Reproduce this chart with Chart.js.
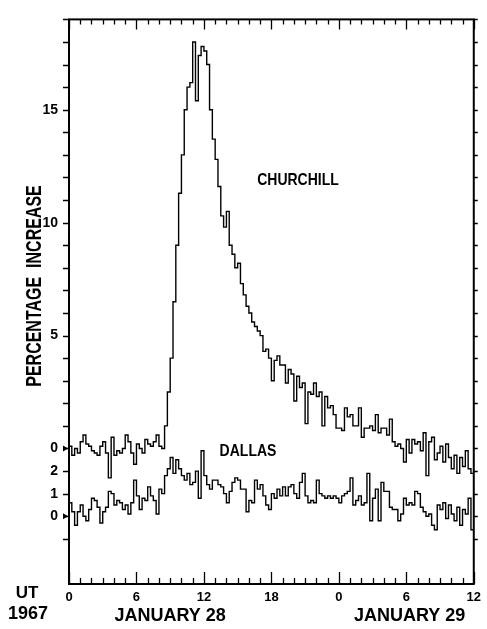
<!DOCTYPE html>
<html>
<head>
<meta charset="utf-8">
<script src="https://cdn.jsdelivr.net/npm/chart.js@4"></script>
<style>
  html, body { margin: 0; padding: 0; background: #fff; }
</style>
</head>
<body>
<canvas id="c" width="487" height="629"></canvas>
<script>
    // 15 minute bins, hour 0 of Jan 28 to hour 12 of Jan 29 (UT)
    const STEP_H = 0.25;
    const CHURCHILL = [
        0.1, -0.3, 0.0, -0.2,  0.3, 0.6, 0.2, 0.1,  -0.1, -0.2, -0.3, 0.1,  0.3, -0.2, -1.3, 0.5,
        -0.3, -0.1, -0.2, 0.0,  0.6, 0.3, -0.2, -0.7,  0.2, 0.0, -0.2, 0.4,  0.2, 0.1, 0.3, 0.6,
        0.1, 0.0, 1.0, 2.5,  4.0, 6.5, 9.0, 11.3,  13.0, 15.0, 16.0, 16.2,  18.0, 15.4, 17.4, 17.8,
        17.6, 17.0, 15.0, 13.7,  12.8, 11.6, 10.3, 9.8,  10.5, 9.0, 8.6, 8.0,  8.2, 7.3, 6.8, 6.3,
        6.0, 5.6, 5.4, 5.2,  5.0, 4.3, 4.4, 4.0,  3.0, 3.9, 4.1, 3.7,  3.7, 2.9, 3.5, 3.3,
        2.1, 3.2, 2.7, 2.9,  1.1, 2.5, 2.4, 2.9,  2.3, 2.5, 1.0, 2.3,  1.8, 1.9, 1.5, 0.9,
        0.9, 0.8, 1.8, 1.4,  1.5, 1.0, 1.0, 1.8,  0.5, 0.9, 0.9, 1.0,  0.8, 1.5, 0.7, 0.9,
        0.9, 0.6, 1.3, 0.3,  0.1, 0.2, 0.0, -0.6,  0.4, -0.2, 0.4, 0.2,  0.3, -0.1, 0.7, -1.2,
        0.3, 0.5, -0.5, -0.2,  0.1, -0.6, 0.2, -0.4,  -0.9, -0.3, -1.1, -0.4,  -0.8, -0.1, -0.9, -1.1
    ];
    const DALLAS = [
        0.6, 0.2, -0.4, 0.2,  0.5, 0.0, -0.2, 0.3,  0.8, 0.7, 0.4, -0.3,  0.2, 0.4, 1.1, 1.0,
        0.5, 0.7, 0.6, 0.3,  0.5, 0.1, 0.6, 1.6,  0.9, 0.3, 0.8, 0.7,  1.3, 0.9, 0.7, 0.1,
        1.2, 1.0, 1.8, 2.1,  2.6, 1.9, 2.5, 2.1,  1.8, 1.6, 1.9, 1.4,  1.5, 2.0, 0.8, 2.9,
        1.8, 1.4, 1.2, 1.6,  1.6, 1.4, 1.3, 1.0,  0.6, 1.1, 1.5, 1.7,  1.6, 1.2, 1.2, 0.2,
        0.7, 0.6, 1.6, 1.2,  1.4, 0.9, 0.5, 0.3,  1.0, 0.8, 1.2, 0.9,  1.3, 0.9, 1.3, 1.4,
        1.0, 0.8, 1.5, 1.9,  0.9, 0.6, 0.7, 0.6,  1.6, 1.0, 0.9, 0.8,  0.9, 0.8, 0.9, 0.8,
        0.6, 0.9, 1.0, 1.1,  1.7, 0.5, 0.7, 0.9,  0.5, 0.6, 1.9, -0.2,  0.8, 1.2, -0.2, 1.5,
        1.1, 1.1, 0.4, 0.3,  0.3, -0.2, 0.1, 0.8,  0.5, 0.6, 0.5, 1.1,  1.0, 0.4, 0.2, 0.0,
        0.1, -0.4, -0.6, 0.5,  0.3, 0.6, -0.1, 0.5,  0.1, -0.2, 0.4, -0.4,  0.3, 0.1, 0.8, -0.6
    ];
    const DALLAS_OFFSET = -3;   // Dallas curve sits 3 units below Churchill's zero

    const X_TICKS = [0, 6, 12, 18, 24, 30, 36];
    const X_LABELS = ['0', '6', '12', '18', '0', '6', '12'];
    const Y_TICKS = [15, 10, 5, 0, -1, -2, -3];
    const Y_LABELS = ['15', '10', '5', '0', '2', '1', '0'];
    const DAYS = ['JANUARY 28', 'JANUARY 29'];
    const FONT = "'Liberation Sans', Arial, sans-serif";

    const toPts = (arr, off) => {
        let pts = arr.map((v, i) => ({ x: i * STEP_H, y: v + off }));
        pts.push({ x: arr.length * STEP_H, y: arr[arr.length - 1] + off });
        return pts;
    };

    function label(ctx, s, x, y, size, sy) {
        ctx.save();
        ctx.translate(x, y);
        ctx.scale(1, sy || 1);
        ctx.font = 'bold ' + size + 'px ' + FONT;
        ctx.textAlign = 'center'; ctx.textBaseline = 'middle';
        ctx.fillText(s, 0, 0);
        ctx.restore();
    }

    const frame = {
        id: 'frame',
        afterDraw(chart) {
            const { ctx, chartArea: a, scales: { x, y } } = chart;
            ctx.save();
            ctx.strokeStyle = '#000'; ctx.fillStyle = '#000';
            ctx.lineWidth = 2;
            ctx.strokeRect(a.left, a.top, a.right - a.left, a.bottom - a.top);
            ctx.lineWidth = 1.3;
            ctx.beginPath();
            for (let h = 0; h <= 36; h++) {
                let px = Math.round(x.getPixelForValue(h)) + 0.5, major = h % 6 === 0;
                ctx.moveTo(px, a.bottom); ctx.lineTo(px, a.bottom - (major ? 12 : 6));
                ctx.moveTo(px, a.top); ctx.lineTo(px, a.top + (major ? 10 : 5));
            }
            for (let v = -4; v <= 19; v++) {
                let py = Math.round(y.getPixelForValue(v)) + 0.5;
                ctx.moveTo(a.left - 6, py); ctx.lineTo(a.left, py);
                ctx.moveTo(a.right, py); ctx.lineTo(a.right + 4, py);
            }
            ctx.stroke();
            [0, DALLAS_OFFSET].forEach(v => {
                let py = y.getPixelForValue(v);
                ctx.beginPath();
                ctx.moveTo(a.left - 6, py - 3); ctx.lineTo(a.left - 1, py); ctx.lineTo(a.left - 6, py + 3);
                ctx.fill();
            });

            ctx.fillStyle = '#000';
            ctx.save();
            ctx.translate(35, 286);
            ctx.rotate(-Math.PI / 2);
            label(ctx, 'PERCENTAGE  INCREASE', 0, 0, 16, 1.35);
            ctx.restore();
            label(ctx, 'CHURCHILL', 298, 181, 14, 1.15);
            label(ctx, 'DALLAS', 248, 452, 14, 1.15);
            label(ctx, 'UT', 27, 593, 17);
            label(ctx, '1967', 28, 614, 18);
            label(ctx, DAYS[0], x.getPixelForValue(9), 616, 18);
            label(ctx, DAYS[1], x.getPixelForValue(30.3), 616, 18);
            ctx.restore();
        }
    };

    new Chart(document.getElementById('c'), {
        type: 'line',
        data: {
            datasets: [
                { label: 'Churchill', data: toPts(CHURCHILL, 0), stepped: true, borderColor: '#000', borderWidth: 1.4, pointRadius: 0, fill: false },
                { label: 'Dallas', data: toPts(DALLAS, DALLAS_OFFSET), stepped: true, borderColor: '#000', borderWidth: 1.4, pointRadius: 0, fill: false }
            ]
        },
        options: {
            responsive: false, animation: false, devicePixelRatio: 1,
            layout: { padding: { left: 0, right: 8, top: 11, bottom: 0 } },
            plugins: { legend: { display: false }, tooltip: { enabled: false } },
            scales: {
                x: {
                    type: 'linear', min: 0, max: 36, position: 'bottom',
                    grid: { display: false, drawTicks: false }, border: { display: false },
                    afterBuildTicks: s => { s.ticks = X_TICKS.map(v => ({ value: v })); },
                    afterFit: s => { s.height = 45; },
                    ticks: { padding: 6, maxRotation: 0, color: '#000', font: { family: FONT, size: 13, weight: 'bold' },
                        callback: (v) => X_LABELS[X_TICKS.indexOf(v)] }
                },
                y: {
                    type: 'linear', min: -6, max: 19,
                    grid: { display: false, drawTicks: false }, border: { display: false },
                    afterBuildTicks: s => { s.ticks = Y_TICKS.map(v => ({ value: v })); },
                    afterFit: s => { s.width = 69; },
                    ticks: { padding: 11, color: '#000', font: { family: FONT, size: 14, weight: 'bold' },
                        callback: (v) => Y_LABELS[Y_TICKS.indexOf(v)] }
                }
            }
        },
        plugins: [frame]
    });
</script>
</body>
</html>
